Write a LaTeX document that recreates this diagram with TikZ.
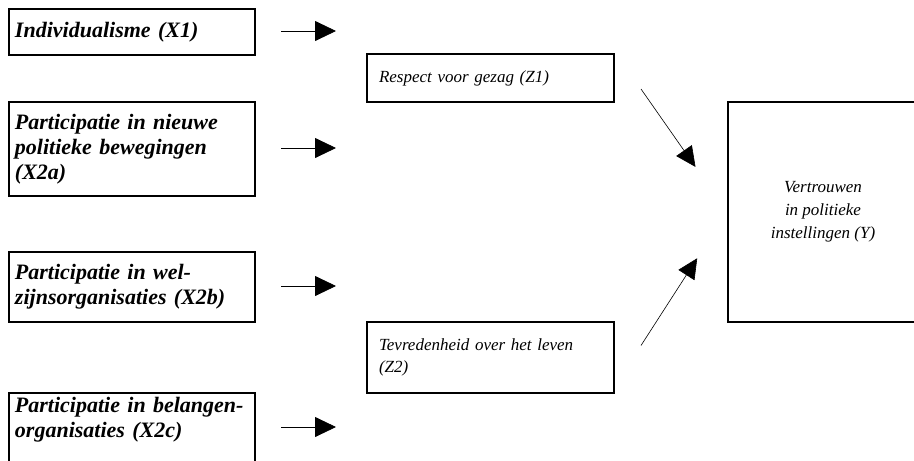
\documentclass[tikz,border=0pt]{standalone}
\usepackage{fontspec}
\setmainfont{Liberation Serif}
\usetikzlibrary{positioning,arrows.meta}

\begin{document}
\begin{tikzpicture}[x=1pt,y=-1pt,
        xbox/.style={draw, line width=2pt, anchor=north west, minimum width=246pt, text width=234pt, inner xsep=6pt, align=left, font=\fontsize{22}{25}\selectfont\bfseries\itshape},
        zbox/.style={draw, line width=2pt, anchor=north west, minimum width=247pt, text width=223pt, inner xsep=12pt, align=left, font=\fontsize{17}{22}\selectfont\itshape},
        arr/.style={-{Triangle[length=21pt,width=20pt]}, line width=0.8pt},
        diag/.style={-{Triangle[length=20pt,width=19pt]}, line width=0.6pt}]
        \useasboundingbox (0,0) rectangle (914,461);
        \clip (0,0) rectangle (914,461);

        \node[xbox, minimum height=46pt] (x1) at (8,8) {Individualisme (X1)};
        \node[xbox, minimum height=94pt] (x2a) at (8,101) {Participatie in nieuwe\\politieke bewegingen\\(X2a)};
        \node[xbox, minimum height=70pt] (x2b) at (8,251) {Participatie in wel-\\zijnsorganisaties (X2b)};
        \node[xbox, inner ysep=4pt, text depth=70pt] (x2c) at (8,392) {Participatie in belangen-\\organisaties (X2c)};

        \node[zbox, minimum height=48pt] (z1) at (366,53) {Respect voor gezag (Z1)};
        \node[zbox, minimum height=71pt] (z2) at (366,321) {Tevredenheid over het leven\\(Z2)};

        \node[draw, line width=2pt, anchor=north west, minimum width=190pt, minimum height=220pt, align=center, font=\fontsize{17}{23}\selectfont\itshape] (y) at (727,101) {Vertrouwen\\in politieke\\instellingen (Y)};

        \coordinate (h1) at (336,31);
        \coordinate (h2) at (336,148);
        \coordinate (h3) at (336,286);
        \coordinate (h4) at (336,427);

        \draw[arr, shorten <=25pt] (x1.east |- h1) -- (h1);
        \draw[arr, shorten <=25pt] (x2a.east |- h2) -- (h2);
        \draw[arr, shorten <=25pt] (x2b.east |- h3) -- (h3);
        \draw[arr, shorten <=25pt] (x2c.east |- h4) -- (h4);

        \draw[diag, shorten >=55pt] ([shift={(26,11)}]z1.east) -- (y.west);
        \draw[diag, shorten >=55pt] ([shift={(26,-12)}]z2.east) -- (y.west);
\end{tikzpicture}
\end{document}
